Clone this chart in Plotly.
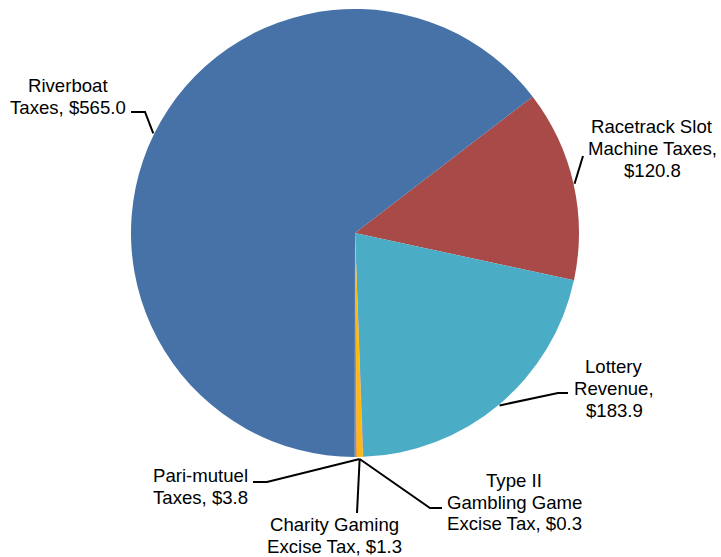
import math
import plotly.graph_objects as go

# Gaming revenue by source ($ millions), in clockwise slice order
labels = [
    "Racetrack Slot Machine Taxes",
    "Lottery Revenue",
    "Type II Gambling Game Excise Tax",
    "Pari-mutuel Taxes",
    "Charity Gaming Excise Tax",
    "Riverboat Taxes",
]
values = [120.8, 183.9, 0.3, 3.8, 1.3, 565.0]
label_lines = [
    ["Racetrack Slot", "Machine Taxes,", "$120.8"],
    ["Lottery", "Revenue,", "$183.9"],
    ["Type II", "Gambling Game", "Excise Tax, $0.3"],
    ["Pari-mutuel", "Taxes, $3.8"],
    ["Charity Gaming", "Excise Tax, $1.3"],
    ["Riverboat", "Taxes, $565.0"],
]
colors = ["#A84A47", "#4BACC6", "#8064A2", "#FDB912", "#E4832F", "#4672A8"]

W, H = 721, 557
CX, CY, R = 355.0, 233.0, 224.0
ROTATION = 52.5
LINE_GAP = 21.7
FONT = dict(family="Liberation Sans, Arial, sans-serif", size=18.6, color="black")

def px(x):
    return x / W

def py(y):
    return 1 - y / H

fig = go.Figure(
    go.Pie(
        labels=labels,
        values=values,
        sort=False,
        direction="clockwise",
        rotation=ROTATION,
        marker=dict(colors=colors, line=dict(width=0)),
        textinfo="none",
        hoverinfo="label+value",
        showlegend=False,
        domain=dict(x=[px(CX - R), px(CX + R)], y=[py(CY + R), py(CY - R)]),
    )
)

# Mid-angle of every slice, measured clockwise from 12 o'clock
total = sum(values)
mids = []
acc = ROTATION
for v in values:
    span = v / total * 360.0
    mids.append(acc + span / 2)
    acc += span

def edge_point(angle_deg, r=R):
    a = math.radians(angle_deg)
    return CX + r * math.sin(a), CY - r * math.cos(a)

# The three thin slices share one anchor point at the bottom of the pie
small = [2, 3, 4]
small_anchor = edge_point(sum(mids[i] for i in small) / len(small), R + 2)

anchors = [edge_point(m, R + 1) for m in mids]
for i in small:
    anchors[i] = small_anchor

# Label placement: text block centre and leader-line waypoints (pixels)
label_pos = [
    (652, 148.6),
    (614, 388.6),
    (514, 502.2),
    (200, 486.8),
    (334, 535.8),
    (68, 96.3),
]
leader_waypoints = [
    [(583, 156)],
    [(568, 393), (558, 393)],
    [(442, 508), (430, 508)],
    [(357, 513)],
    [(253, 482), (267, 482)],
    [(131, 112), (145, 112)],
]

shapes = []
annotations = []
for i, lines in enumerate(label_lines):
    pts = leader_waypoints[i] + [anchors[i]]
    path = "M {} {}".format(px(pts[0][0]), py(pts[0][1]))
    for x, y in pts[1:]:
        path += " L {} {}".format(px(x), py(y))
    shapes.append(
        dict(type="path", xref="paper", yref="paper", path=path,
             line=dict(color="black", width=2))
    )
    tx, ty = label_pos[i]
    n = len(lines)
    for k, line in enumerate(lines):
        ly = ty + (k - (n - 1) / 2) * LINE_GAP
        annotations.append(
            dict(
                x=px(tx), y=py(ly), xref="paper", yref="paper",
                text=line, showarrow=False,
                xanchor="center", yanchor="middle", align="center",
                font=FONT,
            )
        )

fig.update_layout(
    width=W,
    height=H,
    margin=dict(l=0, r=0, t=0, b=0),
    paper_bgcolor="white",
    plot_bgcolor="white",
    shapes=shapes,
    annotations=annotations,
)

fig.write_html("out.html")
